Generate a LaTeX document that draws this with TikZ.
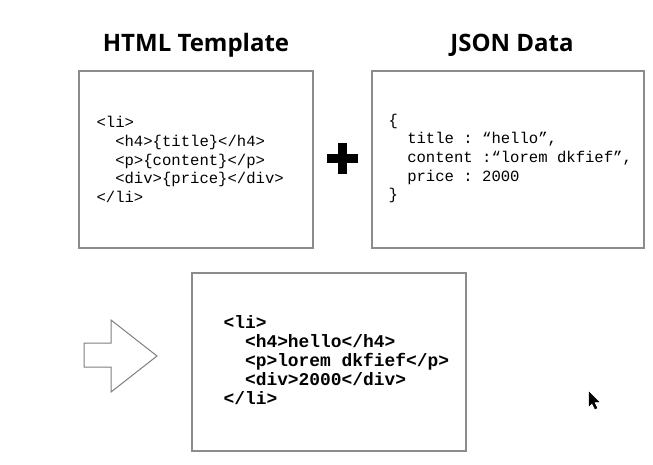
\documentclass[tikz,border=0pt]{standalone}
\usepackage{fontspec}
\setmainfont{Open Sans}
\setmonofont{Liberation Mono}
\usetikzlibrary{calc,positioning}
\definecolor{framegray}{HTML}{8C8C8C}
\newcommand{\ind}{\hphantom{xx}}
\tikzset{
	cardbox/.style={draw=framegray, line width=1.3pt, inner sep=0pt},
	cardtitle/.style={font=\bfseries\fontsize{24}{28}\selectfont, inner sep=0pt, anchor=base},
	codetext/.style={font=\ttfamily\fontsize{15.6}{18.6}\selectfont, align=left, inner sep=0pt, anchor=west},
	boldcode/.style={font=\ttfamily\bfseries\fontsize{17.9}{18.9}\selectfont, align=left, inner sep=0pt, anchor=west}
}

\begin{document}
\begin{tikzpicture}[x=1pt, y=-1pt]
			%%%%% START %%%%%
			
			\useasboundingbox (0, 0) rectangle (653, 464);
			
			\node[cardbox, minimum width=234pt, minimum height=177pt] (tmplbox) at (196, 159.5) {};
			\node[cardtitle] (tmpltitle) at ([yshift=19pt]tmplbox.north) {HTML Template};
			\node[codetext] (tmplcode) at ([xshift=18pt]tmplbox.west) {<li>\\ \ind<h4>\{title\}</h4>\\ \ind<p>\{content\}</p>\\ \ind<div>\{price\}</div>\\ </li>};
			
			\node[cardbox, minimum width=272pt, minimum height=177pt] (jsonbox) at (508, 159.5) {};
			\node[cardtitle] (jsontitle) at ([xshift=4pt, yshift=19pt]jsonbox.north) {JSON Data};
			\node[codetext] (jsoncode) at ([xshift=17pt, yshift=1pt]jsonbox.west) {\{\\ \ind title : “hello”,\\ \ind content :“lorem dkfief”,\\ \ind price : 2000\\ \}};
			
			\draw[fill=black] (327, 154) rectangle (357, 162);
			\draw[fill=black] (338, 143) rectangle (346, 173);
			
			\node[cardbox, minimum width=274pt, minimum height=178pt] (htmlbox) at (329, 362) {};
			\node[boldcode] (htmlcode) at ([xshift=32pt, yshift=2pt]htmlbox.west) {<li>\\ \ind<h4>hello</h4>\\ \ind<p>lorem dkfief</p>\\ \ind<div>2000</div>\\ </li>};
			
			\draw[draw=framegray!90!black, line width=1pt, line join=miter] (84, 343) -- (111, 343) -- (111, 320) -- (157, 356) -- (111, 392) -- (111, 367) -- (84, 367) -- cycle;
			
			\draw[fill=black] (589, 392) -- (589, 406) -- (592, 403) -- (595, 409) -- (597, 408) -- (594, 402) -- (599, 402) -- cycle;
			
			%%%%% END %%%%%
\end{tikzpicture}
\end{document}
